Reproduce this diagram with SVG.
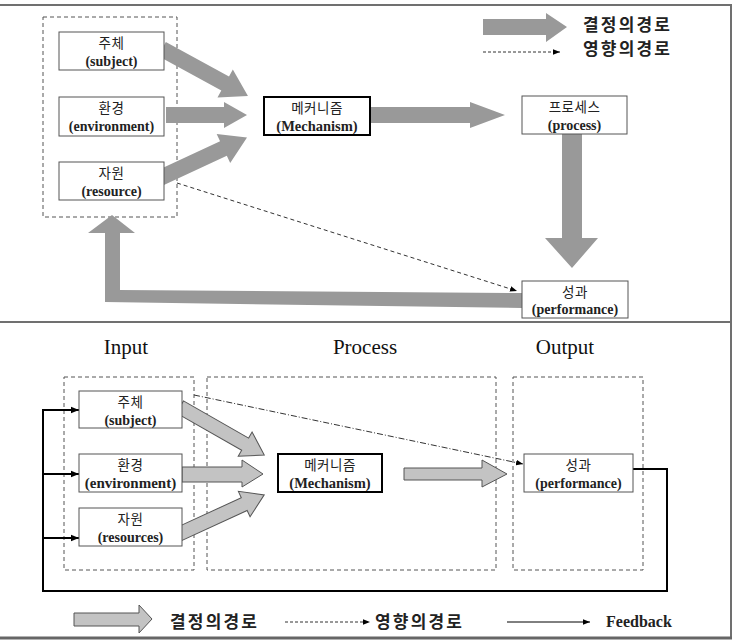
<svg xmlns="http://www.w3.org/2000/svg" width="736" height="641" viewBox="0 0 736 641">
<defs>
<style>
.frame{stroke:#707070;stroke-width:2;fill:none}
.dbox{fill:none;stroke:#555;stroke-width:1;stroke-dasharray:4,3}
.box{fill:#fff;stroke:#555;stroke-width:1}
.mbox{fill:#fff;stroke:#000;stroke-width:2}
.ko{font-family:"Noto Sans CJK KR","Noto Sans",sans-serif;font-size:13.5px;fill:#222;text-anchor:middle;letter-spacing:0.5px}
.en{font-family:"Liberation Serif",serif;font-weight:bold;font-size:14px;fill:#222;text-anchor:middle}
.big{fill:#999}
.lite{fill:#c3c3c3;stroke:#555;stroke-width:1}
.leg{font-family:"Noto Sans CJK KR","Noto Sans",sans-serif;font-weight:bold;font-size:17px;fill:#222;letter-spacing:2.2px}
.hdr{font-family:"Liberation Serif",serif;font-size:21px;fill:#111;text-anchor:middle}
.fb{stroke:#000;stroke-width:2;fill:none}
</style>
<marker id="ah" viewBox="0 0 10 10" refX="10" refY="5" markerWidth="7" markerHeight="7" markerUnits="userSpaceOnUse" orient="auto"><path d="M0,1 L10,5 L0,9 Z" fill="#000"/></marker>
<marker id="ah2" viewBox="0 0 10 10" refX="10" refY="5" markerWidth="8" markerHeight="8" markerUnits="userSpaceOnUse" orient="auto"><path d="M0,1 L10,5 L0,9 Z" fill="#000"/></marker>
</defs>
<rect width="736" height="641" fill="#fff"/>
<!-- frame -->
<line class="frame" x1="0" y1="5" x2="732" y2="5"/>
<line class="frame" x1="731" y1="4" x2="731" y2="638"/>
<line class="frame" x1="0" y1="322" x2="731" y2="322"/>
<line x1="0" y1="638" x2="732" y2="638" stroke="#666" stroke-width="3"/>

<!-- ===== TOP PANEL ===== -->
<rect class="dbox" x="43" y="17" width="134" height="200"/>

<g id="connectors-top">
<polygon class="big" transform="translate(162,49) rotate(28.7)" points="0,-8 72,-8 72,-16 98,0 72,16 72,8 0,8"/>
<polygon class="big" points="166,107 224,107 224,102 247,115 224,128 224,123 166,123"/>
<polygon class="big" transform="translate(160,178) rotate(-25)" points="0,-8 70,-8 70,-16 96,0 70,16 70,8 0,8"/>
<polygon class="big" points="370,107 470,107 470,102 505,115 470,128 470,123 370,123"/>
<polygon class="big" points="562,134 582,134 582,238 598,238 572,268 545,238 562,238"/>
<polygon class="big" points="522,293 120,290 120,233 135,233 112,215 88,233 105,233 105,302 522,308"/>
<line x1="177" y1="183" x2="517" y2="291" stroke="#333" stroke-width="1" stroke-dasharray="4,3" marker-end="url(#ah)"/>
</g>

<g id="t-subject"><rect class="box" x="59" y="32" width="105" height="38"/><text class="ko" x="111.5" y="48">주체</text><text class="en" x="111.5" y="66">(subject)</text></g>
<g id="t-environment"><rect class="box" x="59" y="97" width="105" height="39"/><text class="ko" x="111.5" y="113">환경</text><text class="en" x="111.5" y="131">(environment)</text></g>
<g id="t-resource"><rect class="box" x="59" y="162" width="105" height="38"/><text class="ko" x="111.5" y="178">자원</text><text class="en" x="111.5" y="196">(resource)</text></g>
<g id="t-mechanism"><rect class="mbox" x="264" y="97" width="106" height="38"/><text class="ko" x="317" y="113">메커니즘</text><text class="en" x="317" y="131" style="font-size:14.5px">(Mechanism)</text></g>
<g id="t-process"><rect class="box" x="522" y="96" width="105" height="38"/><text class="ko" x="574.5" y="112">프로세스</text><text class="en" x="574.5" y="130">(process)</text></g>
<g id="t-performance"><rect class="box" x="522" y="281" width="106" height="37"/><text class="ko" x="575" y="297">성과</text><text class="en" x="575" y="314">(performance)</text></g>

<g id="legend-top">
<polygon class="big" points="483,19 546,19 546,13 567,27 546,42 546,35 483,35"/>
<text class="leg" x="583" y="31" font-size="18">결정의경로</text>
<line x1="483" y1="52" x2="560" y2="52" stroke="#333" stroke-width="1" stroke-dasharray="3,2" marker-end="url(#ah)"/>
<text class="leg" x="583" y="55" font-size="18">영향의경로</text>
</g>

<!-- ===== BOTTOM PANEL ===== -->
<text class="hdr" x="126" y="354">Input</text>
<text class="hdr" x="365" y="354">Process</text>
<text class="hdr" x="565" y="354">Output</text>
<rect class="dbox" x="64" y="377" width="130" height="193"/>
<rect class="dbox" x="207" y="377" width="289" height="193"/>
<rect class="dbox" x="513" y="377" width="130" height="193"/>

<g id="connectors-bottom">
<polygon class="lite" transform="translate(180,407) rotate(29.7)" points="0,-7 75,-7 75,-14 97,0 75,14 75,7 0,7"/>
<polygon class="lite" points="182,467 242,467 242,460 263,474 242,487 242,482 182,482"/>
<polygon class="lite" transform="translate(177,535) rotate(-24.7)" points="0,-7 74,-7 74,-14 96,0 74,14 74,7 0,7"/>
<polygon class="lite" points="404,468 482,468 482,460 507,474 482,487 482,480 404,480"/>
<line x1="194" y1="395" x2="523" y2="464" stroke="#333" stroke-width="1" stroke-dasharray="6,2,1,2" marker-end="url(#ah)"/>
<path class="fb" d="M633,469 H667 V591 H43 V410"/>
<line class="fb" x1="42" y1="410" x2="79" y2="410" marker-end="url(#ah2)"/>
<line class="fb" x1="43" y1="474" x2="79" y2="474" marker-end="url(#ah2)"/>
<line class="fb" x1="43" y1="538" x2="79" y2="538" marker-end="url(#ah2)"/>
</g>

<g id="b-subject"><rect class="box" x="79" y="391" width="103" height="37"/><text class="ko" x="130.5" y="407">주체</text><text class="en" x="130.5" y="425">(subject)</text></g>
<g id="b-environment"><rect class="box" x="79" y="454" width="103" height="38"/><text class="ko" x="130.5" y="470">환경</text><text class="en" x="130.5" y="488" style="font-size:15px">(environment)</text></g>
<g id="b-resources"><rect class="box" x="79" y="508" width="103" height="38"/><text class="ko" x="130.5" y="524">자원</text><text class="en" x="130.5" y="542">(resources)</text></g>
<g id="b-mechanism"><rect class="mbox" x="278" y="454" width="104" height="38"/><text class="ko" x="330" y="470">메커니즘</text><text class="en" x="330" y="488" style="font-size:14.5px">(Mechanism)</text></g>
<g id="b-performance"><rect class="box" x="524" y="454" width="109" height="38"/><text class="ko" x="578.5" y="470">성과</text><text class="en" x="578.5" y="488">(performance)</text></g>

<g id="legend-bottom">
<polygon class="lite" points="74,613 139,613 139,605 152,619 139,633 139,626 74,626"/>
<text class="leg" x="170" y="628">결정의경로</text>
<line x1="285" y1="622" x2="370" y2="622" stroke="#333" stroke-width="1" stroke-dasharray="3,2" marker-end="url(#ah)"/>
<text class="leg" x="375" y="628">영향의경로</text>
<line x1="507" y1="622" x2="590" y2="622" stroke="#000" stroke-width="1" marker-end="url(#ah)"/>
<text x="606" y="627" font-family="Liberation Serif, serif" font-weight="bold" font-size="16" fill="#222">Feedback</text>
</g>
</svg>
